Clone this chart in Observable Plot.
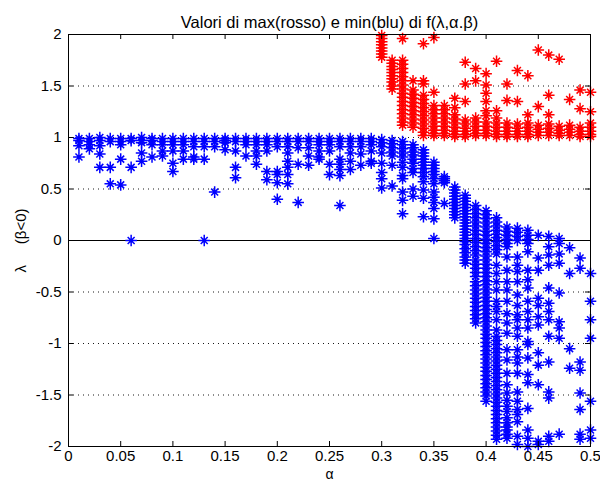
<!DOCTYPE html>
<html>
<head>
<meta charset="utf-8">
<script src="https://cdn.jsdelivr.net/npm/d3@7"></script>
<script src="https://cdn.jsdelivr.net/npm/@observablehq/plot@0.6"></script>
<style>
  html, body { margin: 0; padding: 0; background: #fff; }
  #chart { width: 600px; height: 488px; }
</style>
</head>
<body>
<div id="chart"></div>
<script>
const titleText = "Valori di max(rosso) e min(blu) di f(λ,α.β)";
const xLabel = "α";
const yLabel = "λ\u00a0\u00a0\u00a0\u00a0\u00a0(β<0)";
const xTicks = [0, 0.05, 0.1, 0.15, 0.2, 0.25, 0.3, 0.35, 0.4, 0.45, 0.5];
const yTicks = [-2, -1.5, -1, -0.5, 0, 0.5, 1, 1.5, 2];
const gridLevels = [-1.5, -1, -0.5, 0.5, 1, 1.5];

// minima (blue), one list of lambda values per alpha
const blueAlpha = [0.01,0.02,0.03,0.04,0.05,0.06,0.07,0.08,0.09,0.10,
                   0.11,0.12,0.13,0.14,0.15,0.16,0.17,0.18,0.19,0.20,
                   0.21,0.22,0.23,0.24,0.25,0.26,0.27,0.28,0.29,0.30,
                   0.31,0.32,0.33,0.34,0.35,0.36,0.37,0.38,0.39,0.40,
                   0.41,0.42,0.43,0.44,0.45,0.46,0.47,0.48,0.49,0.50];
const blueLambda = [
  [0.99,0.97,0.92,0.81],
  [0.99,0.96,0.93,0.89],
  [1.0,0.97,0.92,0.84,0.71],
  [0.99,0.96,0.71,0.55],
  [0.99,0.96,0.93,0.79,0.54],
  [0.99,0.97,0.71,0.0],
  [1.0,0.97,0.95,0.85,0.77],
  [0.99,0.97,0.93,0.81],
  [0.99,0.96,0.93,0.87,0.82],
  [0.99,0.96,0.93,0.87,0.75,0.67],
  [0.99,0.96,0.93,0.87,0.79],
  [0.99,0.96,0.91,0.81,0.79],
  [0.99,0.96,0.91,0.79,0.0],
  [0.99,0.96,0.91,0.47],
  [0.99,0.97,0.95,0.88],
  [0.99,0.96,0.87,0.71,0.61],
  [0.99,0.96,0.93,0.82],
  [0.99,0.96,0.93,0.87,0.82,0.74],
  [0.99,0.96,0.93,0.87,0.67,0.59],
  [0.99,0.96,0.91,0.67,0.64,0.56,0.40],
  [0.99,0.96,0.91,0.85,0.77,0.71,0.64,0.55],
  [0.99,0.96,0.90,0.74,0.37],
  [0.99,0.96,0.90,0.82,0.73],
  [0.99,0.96,0.93,0.87,0.81,0.79],
  [0.99,0.96,0.93,0.87,0.74,0.64],
  [0.99,0.96,0.91,0.79,0.74,0.69,0.63,0.34],
  [0.99,0.96,0.91,0.85,0.77,0.69],
  [0.99,0.96,0.91,0.84,0.73],
  [0.99,0.96,0.93,0.87,0.77,0.75],
  [0.98,0.95,0.91,0.85,0.75,0.66,0.60,0.51],
  [0.97,0.94,0.90,0.86,0.82,0.73,0.53],
  [0.96,0.93,0.89,0.85,0.81,0.76,0.71,0.63,0.60,0.47,0.39,0.26],
  [0.93,0.90,0.86,0.83,0.79,0.75,0.70,0.66,0.50,0.43],
  [0.88,0.85,0.82,0.79,0.76,0.73,0.70,0.66,0.62,0.57,0.49,0.41,0.23],
  [0.76,0.73,0.70,0.67,0.64,0.60,0.55,0.47,0.42,0.37,0.31,0.21,0.02],
  [0.62,0.60,0.58,0.56,0.36],
  [0.52,0.49,0.46,0.43,0.40,0.37,0.34,0.31,0.28,0.25,0.22],
  [0.44,0.41,0.38,0.35,0.32,0.29,0.26,0.23,0.20,0.17,0.14,0.11,0.08,0.05,0.02,-0.01,-0.04,-0.08,-0.12,-0.16,-0.19,-0.22],
  [0.34,0.30,0.26,0.22,0.18,0.14,0.10,0.06,0.02,-0.02,-0.06,-0.10,-0.14,-0.19,-0.23,-0.27,-0.31,-0.35,-0.40,-0.44,-0.48,-0.52,-0.56,-0.60,-0.64,-0.68,-0.72,-0.76,-0.80],
  [0.29,0.25,0.21,0.17,0.13,0.09,0.05,0.01,-0.03,-0.07,-0.11,-0.15,-0.19,-0.23,-0.27,-0.31,-0.35,-0.39,-0.43,-0.47,-0.51,-0.55,-0.59,-0.63,-0.67,-0.71,-0.75,-0.79,-0.83,-0.87,-0.91,-0.95,-0.99,-1.03,-1.07,-1.11,-1.15,-1.19,-1.23,-1.27,-1.31,-1.35,-1.39,-1.43,-1.47,-1.51,-1.56],
  [0.22,0.18,0.14,0.10,0.06,0.03,-0.01,-0.05,-0.09,-0.13,-0.24,-0.32,-0.40,-0.48,-0.59,-0.64,-0.69,-0.77,-0.87,-0.93,-0.97,-1.01,-1.05,-1.09,-1.13,-1.17,-1.21,-1.25,-1.29,-1.33,-1.37,-1.41,-1.45,-1.49,-1.53,-1.57,-1.61,-1.65,-1.69,-1.73,-1.77,-1.81,-1.85,-1.89,-1.93],
  [0.13,0.09,0.05,0.01,-0.03,-0.06,-0.16,-0.29,-0.40,-0.48,-0.59,-0.71,-0.80,-0.90,-1.06,-1.16,-1.29,-1.40,-1.48,-1.55,-1.61,-1.66,-1.72,-1.77,-1.81,-1.84,-1.88,-1.92],
  [0.12,0.08,0.04,0.0,-0.16,-0.24,-0.30,-0.40,-0.53,-0.63,-0.72,-0.77,-0.85,-0.93,-1.06,-1.13,-1.19,-1.29,-1.47,-1.56,-1.64,-1.69,-1.76,-1.90,-1.98],
  [0.10,0.05,0.01,-0.03,-0.11,-0.29,-0.38,-0.46,-0.59,-0.69,-0.77,-0.85,-0.98,-1.01,-1.14,-1.30,-1.38,-1.63,-1.84,-1.92,-2.0],
  [0.05,-0.17,-0.29,-0.56,-0.63,-0.74,-0.82,-1.09,-1.21,-1.40,-1.95,-1.98],
  [0.04,-0.06,-0.14,-0.24,-0.46,-0.61,-0.69,-0.77,-0.93,-1.18,-1.47,-1.53,-1.90,-1.95],
  [0.02,-0.03,-0.13,-0.22,-0.51,-0.79,-0.85,-0.95,-1.88],
  [-0.07,-0.32,-1.05,-1.24],
  [-0.17,-0.27,-1.18,-1.26,-1.48,-1.64,-1.88,-1.93],
  [-0.32,-0.59,-0.77,-0.95,-1.56,-1.84,-1.92]
];

// maxima (red)
const redAlpha = [0.30,0.31,0.32,0.33,0.34,0.35,0.36,0.37,0.38,0.39,0.40,
                  0.41,0.42,0.43,0.44,0.45,0.46,0.47,0.48,0.49,0.50];
const redLambda = [
  [1.99,1.96,1.93,1.90,1.87,1.84,1.81,1.78],
  [1.75,1.72,1.69,1.66,1.63,1.60,1.57,1.54,1.50,1.47],
  [1.96,1.75,1.71,1.67,1.63,1.59,1.55,1.51,1.47,1.43,1.39,1.35,1.31,1.27,1.23,1.19,1.15,1.12],
  [1.55,1.46,1.42,1.38,1.34,1.30,1.26,1.22,1.18,1.14,1.10],
  [1.91,1.55,1.52,1.41,1.37,1.33,1.29,1.25,1.21,1.17,1.13,1.09,1.05,1.02],
  [1.97,1.44,1.31,1.27,1.23,1.19,1.15,1.11,1.07,1.04,1.02],
  [1.31,1.27,1.23,1.19,1.15,1.11,1.07,1.04,1.02],
  [1.38,1.29,1.22,1.18,1.14,1.10,1.06,1.03,1.01],
  [1.73,1.52,1.35,1.17,1.13,1.09,1.06,1.03,1.01],
  [1.67,1.55,1.19,1.15,1.11,1.07,1.04,1.02],
  [1.62,1.51,1.43,1.35,1.26,1.21,1.15,1.11,1.07,1.04,1.02],
  [1.74,1.26,1.19,1.14,1.10,1.06,1.03,1.01],
  [1.52,1.36,1.14,1.10,1.06,1.03,1.01],
  [1.65,1.35,1.13,1.09,1.06,1.03,1.01],
  [1.60,1.22,1.14,1.10,1.06,1.03,1.01],
  [1.85,1.30,1.12,1.08,1.05,1.02],
  [1.80,1.41,1.22,1.13,1.09,1.05,1.02],
  [1.76,1.11,1.07,1.04,1.02],
  [1.37,1.12,1.08,1.05,1.02],
  [1.46,1.28,1.10,1.06,1.03,1.01],
  [1.44,1.25,1.14,1.10,1.06,1.03,1.01]
];

const blueRows = blueAlpha.flatMap((a, i) => blueLambda[i].map(l => ({alpha: a, lambda: l})));
const redRows = redAlpha.flatMap((a, i) => redLambda[i].map(l => ({alpha: a, lambda: l})));

// MATLAB-like '*' marker: plus + times
const matlabStar = {
  draw(ctx, size) {
    const r = Math.sqrt(size / Math.PI);
    const d = r * 0.6;
    ctx.moveTo(-r, 0); ctx.lineTo(r, 0);
    ctx.moveTo(0, -r); ctx.lineTo(0, r);
    ctx.moveTo(-d, -d); ctx.lineTo(d, d);
    ctx.moveTo(-d, d); ctx.lineTo(d, -d);
  }
};

const fmt = d => String(d);
const font = "'Liberation Sans', Arial, sans-serif";

const chart = Plot.plot({
  width: 600,
  height: 488,
  marginLeft: 68,
  marginRight: 10,
  marginTop: 34,
  marginBottom: 42,
  style: {fontFamily: font, fontSize: "15px", background: "#fff", color: "#000"},
  x: {domain: [0, 0.5], axis: null},
  y: {domain: [-2, 2], axis: null},
  marks: [
    Plot.gridY(gridLevels, {stroke: "#000", strokeOpacity: 0.9, strokeDasharray: "1,4"}),
    Plot.ruleY([0], {stroke: "#000", strokeWidth: 1}),
    Plot.dot(blueRows, {x: "alpha", y: "lambda", symbol: matlabStar, r: 5.8, fill: "none", stroke: "#0000ff", strokeWidth: 1.5}),
    Plot.dot(redRows, {x: "alpha", y: "lambda", symbol: matlabStar, r: 5.8, fill: "none", stroke: "#ff0000", strokeWidth: 1.5}),
    Plot.frame({stroke: "#000"}),
    Plot.tickX(xTicks, {x: d => d, insetTop: 407, stroke: "#000"}),
    Plot.tickX(xTicks, {x: d => d, insetBottom: 407, stroke: "#000"}),
    Plot.tickY(yTicks, {y: d => d, insetRight: 517, stroke: "#000"}),
    Plot.tickY(yTicks, {y: d => d, insetLeft: 517, stroke: "#000"}),
    Plot.text(xTicks, {x: d => d, text: fmt, frameAnchor: "bottom", lineAnchor: "top", dy: 4, fontSize: 15, fill: "#000"}),
    Plot.text(yTicks, {y: d => d, text: fmt, frameAnchor: "left", textAnchor: "end", dx: -7, fontSize: 15, fill: "#000"}),
    Plot.text([titleText], {frameAnchor: "top", dy: -18, fontSize: 16.5, fill: "#000"}),
    Plot.text([xLabel], {frameAnchor: "bottom", dy: 32, fontSize: 14, fill: "#000"}),
    Plot.text([yLabel], {frameAnchor: "left", textAnchor: "middle", dx: -47, rotate: -90, fontSize: 15, fill: "#000"})
  ]
});
document.getElementById("chart").appendChild(chart);
</script>
</body>
</html>
